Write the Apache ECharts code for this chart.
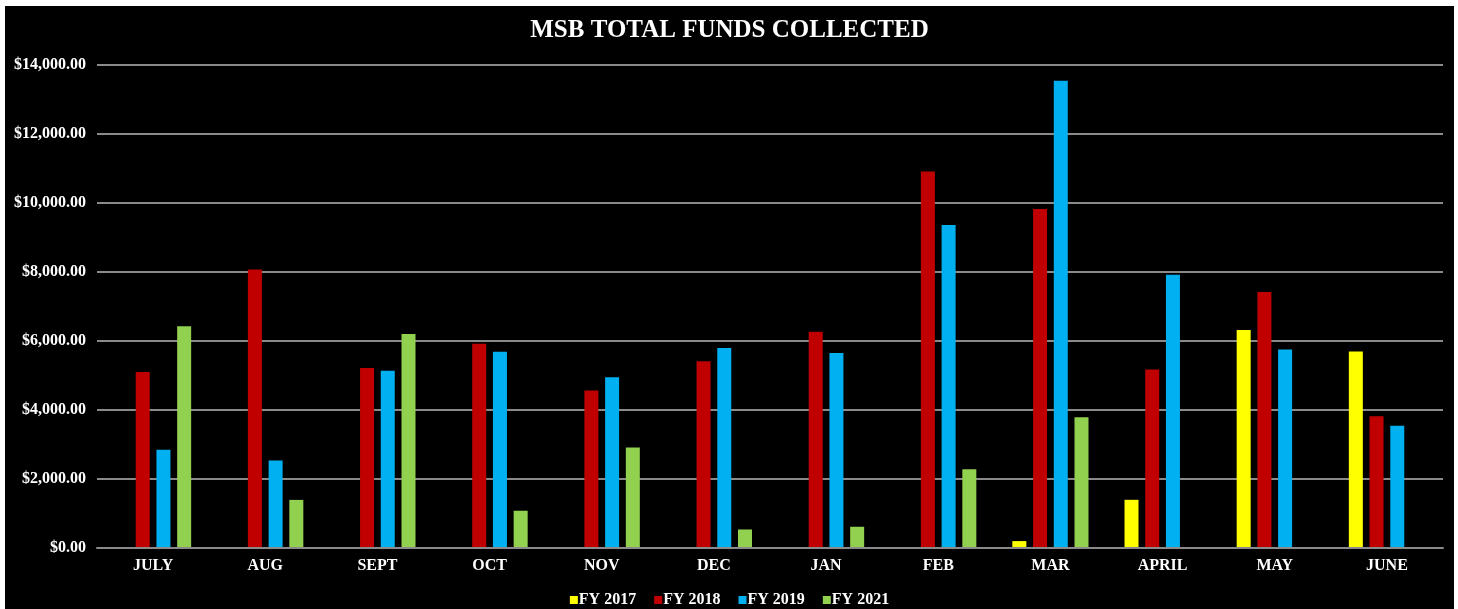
<!DOCTYPE html>
<html>
<head>
<meta charset="utf-8">
<script src="https://cdn.jsdelivr.net/npm/echarts@6/dist/echarts.min.js"></script>
<style>
html,body{margin:0;padding:0;background:#fff;width:1458px;height:609px;overflow:hidden;}
#chart{position:absolute;left:5px;top:6px;width:1449px;height:603px;background:#000;}
</style>
</head>
<body>
<div id="chart"></div>
<script>
const categories = ['JULY','AUG','SEPT','OCT','NOV','DEC','JAN','FEB','MAR','APRIL','MAY','JUNE'];
const seriesNames = ['FY 2017','FY 2018','FY 2019','FY 2021'];
const fy2017 = [null, null, null, null, null, null, null, null, 186, 1384, 6308, 5686];
const fy2018 = [5093, 8067, 5209, 5913, 4555, 5407, 6262, 10907, 9820, 5163, 7413, 3808];
const fy2019 = [2834, 2523, 5131, 5680, 4942, 5785, 5640, 9355, 13541, 7916, 5744, 3535];
const fy2021 = [6419, 1381, 6198, 1067, 2898, 523, 602, 2267, 3779, null, null, null];
const colors = ['#FFFF00', '#C00000', '#00B0F0', '#92D050'];
const yTicks = [0, 2000, 4000, 6000, 8000, 10000, 12000, 14000];

const font = '"Liberation Serif", "Times New Roman", serif';
const chart = echarts.init(document.getElementById('chart'), null, {renderer: 'canvas'});
const dataSets = [fy2017, fy2018, fy2019, fy2021];
chart.setOption({
  backgroundColor: '#000',
  animation: false,
  title: {
    text: 'MSB TOTAL FUNDS COLLECTED',
    left: 'center',
    top: 7,
    textStyle: {color: '#fff', fontFamily: font, fontWeight: 'bold', fontSize: 25}
  },
  legend: {
    bottom: 1,
    padding: 0,
    left: 'center',
    itemWidth: 8,
    itemHeight: 8,
    itemGap: 18,
    icon: 'rect',
    data: seriesNames,
    textStyle: {color: '#fff', fontFamily: font, fontWeight: 'bold', fontSize: 16, padding: [0, 0, 0, -4]}
  },
  grid: {left: 92, right: 11, top: 59, bottom: 61.5, containLabel: false},
  xAxis: {
    type: 'category',
    data: categories,
    z: 3,
    axisLine: {show: true, lineStyle: {color: '#8a8a8a', width: 2}},
    axisTick: {show: false},
    axisLabel: {color: '#fff', fontFamily: font, fontWeight: 'bold', fontSize: 16, margin: 10}
  },
  yAxis: {
    type: 'value',
    min: yTicks[0],
    max: yTicks[yTicks.length - 1],
    interval: 2000,
    axisLine: {show: false},
    axisTick: {show: false},
    splitLine: {lineStyle: {color: '#8a8a8a', width: 2}},
    axisLabel: {
      color: '#fff', fontFamily: font, fontWeight: 'bold', fontSize: 16, margin: 11,
      formatter: v => '$' + v.toLocaleString('en-US', {minimumFractionDigits: 2, maximumFractionDigits: 2})
    }
  },
  series: seriesNames.map((name, i) => ({
    name: name,
    type: 'bar',
    data: dataSets[i],
    barWidth: 14,
    barGap: '48%',
    itemStyle: {color: colors[i]}
  }))
});
</script>
</body>
</html>
